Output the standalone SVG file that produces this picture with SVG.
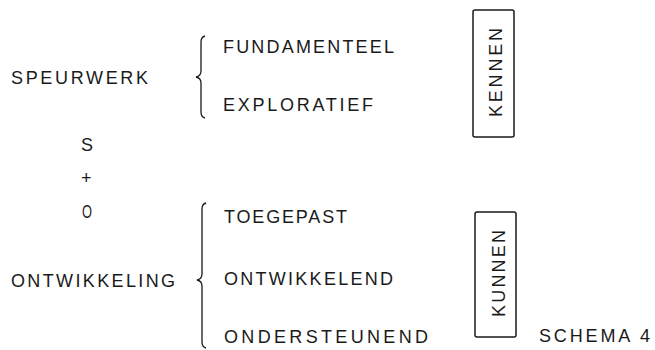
<svg xmlns="http://www.w3.org/2000/svg" width="655" height="350" viewBox="0 0 655 350">
<style>
text{font-family:"Liberation Sans","DejaVu Sans",sans-serif;font-size:18px;fill:#1a1a1a}
.br{fill:none;stroke:#1a1a1a;stroke-width:1.3}
.box{fill:none;stroke:#1a1a1a;stroke-width:1.5}
</style>
<rect width="655" height="350" fill="#fff"/>
<g id="speurwerk"><text x="11" y="84" textLength="137" lengthAdjust="spacing">SPEURWERK</text></g>
<g id="fundamenteel"><text x="223" y="53" textLength="171" lengthAdjust="spacing">FUNDAMENTEEL</text></g>
<g id="exploratief"><text x="223" y="111" textLength="150" lengthAdjust="spacing">EXPLORATIEF</text></g>
<g id="s-o">
<text x="81" y="151">S</text>
<text x="81" y="184">+</text>
<text x="82" y="218" textLength="10" lengthAdjust="spacingAndGlyphs">O</text>
</g>
<g id="toegepast"><text x="224" y="223" textLength="123" lengthAdjust="spacing">TOEGEPAST</text></g>
<g id="ontwikkeling"><text x="11" y="287" textLength="164" lengthAdjust="spacing">ONTWIKKELING</text></g>
<g id="ontwikkelend"><text x="224" y="285" textLength="169" lengthAdjust="spacing">ONTWIKKELEND</text></g>
<g id="ondersteunend"><text x="224" y="343" textLength="204" lengthAdjust="spacing">ONDERSTEUNEND</text></g>
<g id="kennen">
<rect class="box" x="473" y="10" width="41" height="127" rx="2"/>
<text transform="translate(502,117) rotate(-90)" textLength="89" lengthAdjust="spacing">KENNEN</text>
</g>
<g id="kunnen">
<rect class="box" x="475" y="212" width="41" height="125" rx="2"/>
<text transform="translate(505,317) rotate(-90)" textLength="87" lengthAdjust="spacing">KUNNEN</text>
</g>
<g id="schema"><text x="539" y="342" textLength="111" lengthAdjust="spacing">SCHEMA 4</text></g>
<g id="connectors">
<path class="br" d="M205 36 Q201 37 201 42 L201 71 Q201 76 196 77 Q201 78 201 83 L201 112 Q201 117 205 118"/>
<path class="br" d="M206 203 Q202 204 202 209 L202 274 Q202 279 197 280 Q202 281 202 286 L202 342 Q202 347 206 348"/>
</g>
</svg>
